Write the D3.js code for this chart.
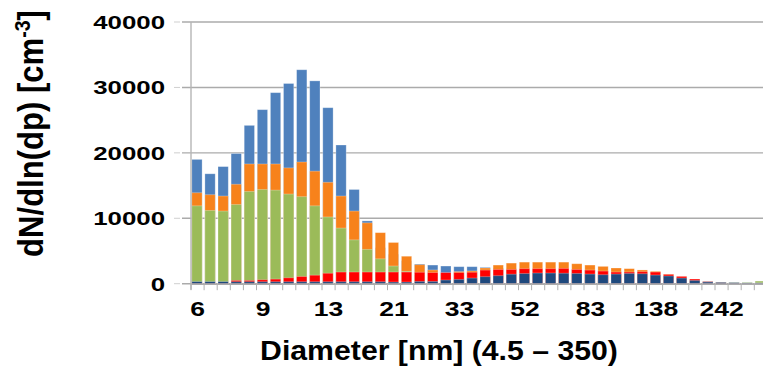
<!DOCTYPE html>
<html>
<head>
<meta charset="utf-8">
<script src="https://cdn.jsdelivr.net/npm/d3@7"></script>
<style>
  html, body { margin: 0; padding: 0; background: #fff; }
  svg { display: block; }
  text { font-family: "Liberation Sans", Arial, sans-serif; font-weight: bold; fill: #000; }
</style>
</head>
<body>
<div id="chart"></div>
<script>
// size bins (index), only every 5th bin is labelled
const binCount = 44;
const tickLabels = ['6', '9', '13', '21', '33', '52', '83', '138', '242'];
const labelEvery = 5;
const yTicks = [0, 10000, 20000, 30000, 40000];

// series, drawn back to front (overlapping bars)
const seriesBlue = [19000, 16800, 17900, 19900, 24200, 26600, 29200, 30600, 32700, 31000,
  26900, 21200, 14400, 9600, 5500, 4500, 3500, 3000, 2850, 2700,
  2600, 2600, 2500, 2400, 2300, 2300, 2300, 2300, 2300, 2200,
  2100, 2000, 1900, 1800, 1700, 1600, 1300, 1000, 600, 400,
  250, 250, 150, 250];
const seriesOrange = [13900, 13600, 13400, 15200, 18300, 18300, 18300, 17700, 18600, 17200,
  15500, 13400, 11100, 9300, 7800, 6300, 4200, 2900, 2100, 1600,
  1850, 1950, 2400, 2850, 3150, 3300, 3300, 3300, 3300, 3050,
  2850, 2650, 2400, 2300, 2100, 1900, 1450, 1050, 650, 300,
  200, 150, 100, 100];
const seriesGreen = [11900, 11200, 11100, 12100, 14100, 14400, 14300, 13700, 13300, 11900,
  10200, 8500, 6700, 5250, 3800, 2700, 1900, 1400, 1100, 900,
  800, 700, 650, 600, 550, 500, 500, 500, 450, 450,
  400, 400, 400, 350, 350, 300, 300, 250, 250, 200,
  200, 150, 200, 400];
const seriesRed = [200, 200, 200, 500, 500, 600, 700, 900, 1100, 1300,
  1600, 1780, 1780, 1780, 1780, 1780, 1780, 1750, 1700, 1700,
  1700, 1750, 2080, 2180, 2180, 2290, 2290, 2290, 2340, 2180,
  2080, 1930, 1780, 1780, 1830, 1780, 1420, 1120, 710, 300,
  150, 100, 100, 100];
const seriesNavy = [320, 320, 320, 300, 300, 300, 300, 300, 300, 300,
  300, 300, 300, 300, 300, 250, 250, 350, 350, 560,
  660, 860, 1070, 1220, 1450, 1550, 1630, 1630, 1600, 1570,
  1470, 1370, 1470, 1570, 1520, 1320, 1180, 860, 500, 250,
  200, 150, 120, 120];

const series = [
  { values: seriesBlue, color: '#4f81bd' },
  { values: seriesOrange, color: '#f7821b' },
  { values: seriesGreen, color: '#9bbb59' },
  { values: seriesRed, color: '#ff0000' },
  { values: seriesNavy, color: '#1f497d' }
];

const width = 763, height = 373;
const plot = { left: 191, right: 767.4, top: 22, bottom: 283.7 };
const textStretch = 1.36;

const svg = d3.select('#chart').append('svg')
  .attr('width', width)
  .attr('height', height);

const bins = d3.range(binCount);
const x = d3.scaleBand().domain(bins).range([plot.left, plot.right]);
const y = d3.scaleLinear().domain([0, 40000]).range([plot.bottom, plot.top]);

// gridlines
svg.append('g')
  .selectAll('line')
  .data(yTicks)
  .enter()
  .append('line')
  .attr('x1', 182)
  .attr('x2', width)
  .attr('y1', d => y(d))
  .attr('y2', d => y(d))
  .attr('stroke', '#ababab')
  .attr('stroke-width', 1.4);

// small y tick marks
svg.append('g')
  .selectAll('line')
  .data(yTicks)
  .enter()
  .append('line')
  .attr('x1', 174)
  .attr('x2', 180)
  .attr('y1', d => y(d))
  .attr('y2', d => y(d))
  .attr('stroke', '#cfcfcf')
  .attr('stroke-width', 1);

// y tick labels (chart is horizontally stretched)
svg.append('g')
  .selectAll('text')
  .data(yTicks)
  .enter()
  .append('text')
  .attr('transform', d => `translate(165,${y(d) + 6.8}) scale(${textStretch},1)`)
  .attr('text-anchor', 'end')
  .style('font-size', '19px')
  .text(d => d);

// bars
series.forEach(s => {
  svg.append('g')
    .selectAll('rect')
    .data(s.values)
    .enter()
    .append('rect')
    .attr('x', (d, i) => x(i) + 0.8)
    .attr('width', x.bandwidth() - 2.8)
    .attr('y', d => y(d))
    .attr('height', d => y(0) - y(d))
    .attr('fill', s.color)
    .attr('stroke', '#ffffff')
    .attr('stroke-opacity', 0.35)
    .attr('stroke-width', 0.8);
});

// left axis line
svg.append('line')
  .attr('x1', plot.left)
  .attr('x2', plot.left)
  .attr('y1', plot.top)
  .attr('y2', plot.bottom + 6)
  .attr('stroke', '#b5b5b5')
  .attr('stroke-width', 1.4);

// bottom axis with category boundary ticks
svg.append('g')
  .attr('transform', `translate(0,${plot.bottom})`)
  .call(d3.axisBottom(x).tickSize(0).tickFormat(''))
  .call(g => g.select('.domain').attr('stroke', '#ababab').attr('stroke-width', 1.4))
  .call(g => g.selectAll('.tick').remove());

svg.append('g')
  .selectAll('line')
  .data(bins.concat([binCount]))
  .enter()
  .append('line')
  .attr('x1', d => d < binCount ? x(d) : x(binCount - 1) + x.step())
  .attr('x2', d => d < binCount ? x(d) : x(binCount - 1) + x.step())
  .attr('y1', plot.bottom)
  .attr('y2', plot.bottom + 6.5)
  .attr('stroke', '#b0b0b0')
  .attr('stroke-width', 1);

// x labels, every 5th bin
svg.append('g')
  .selectAll('text')
  .data(tickLabels)
  .enter()
  .append('text')
  .attr('transform', (d, i) => `translate(${x(i * labelEvery) + x.bandwidth() / 2},316) scale(${textStretch},1)`)
  .attr('text-anchor', 'middle')
  .style('font-size', '19.5px')
  .text(d => d);

// x title, fitted to its width in the picture
const xTitle = svg.append('text')
  .attr('text-anchor', 'middle')
  .style('font-size', '27.5px')
  .text('Diameter [nm] (4.5 \u2013 350)');
const xw = xTitle.node().getComputedTextLength();
xTitle.attr('transform', `translate(439,359.5) scale(${358 / xw},1)`);

// y title
const yTitle = svg.append('text')
  .attr('text-anchor', 'middle')
  .style('font-size', '27px');
yTitle.append('tspan').text('dN/dln(dp) [cm');
yTitle.append('tspan').attr('dy', -10).style('font-size', '17px').text('-3');
yTitle.append('tspan').attr('dy', 10).text(']');
const yw = yTitle.node().getComputedTextLength();
yTitle.attr('transform', `translate(43,133.5) rotate(-90) scale(${247 / yw},1.3)`);
</script>
</body>
</html>
